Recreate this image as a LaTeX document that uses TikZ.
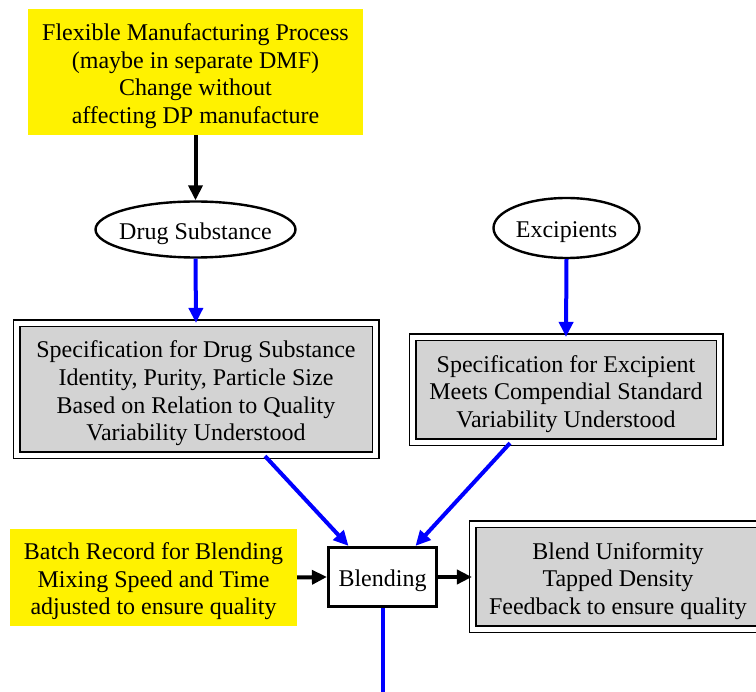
\documentclass[tikz,border=0pt]{standalone}
\usepackage{fontspec}
\setmainfont{Liberation Serif}
\usetikzlibrary{arrows.meta,calc,shapes.geometric}
\definecolor{specgray}{RGB}{211,211,211}
\definecolor{arrowblue}{RGB}{0,0,255}
\tikzset{
  txt/.style={font=\fontsize{24}{27.6}\selectfont, align=center, inner sep=0pt, text=black, yshift=-4pt},
  base/.style={inner sep=0pt},
  yellowbox/.style={base, rectangle, fill=yellow},
  ovalnode/.style={base, ellipse, draw, line width=2.4pt, fill=white},
  specbox/.style={base, rectangle, draw, line width=1.2pt, double=white, double distance=5.6pt, fill=specgray},
  processbox/.style={base, rectangle, draw, line width=3.2pt, fill=white},
  blackarrow/.style={line width=4pt, -{Triangle[length=15pt,width=14pt]}},
  bluearrow/.style={line width=4pt, arrowblue, -{Triangle[length=15pt,width=14pt]}}
}
\begin{document}
\begin{tikzpicture}[x=1pt,y=-1pt]
\useasboundingbox (0,0) rectangle (756,692);
\begin{scope}
\clip (0,0) rectangle (756,692);
\node[yellowbox, minimum width=335pt, minimum height=126pt,
  label={[txt]center:{Flexible Manufacturing Process\\(maybe in separate DMF)\\Change without\\affecting DP manufacture}}] (top) at (195.5,72) {};
\node[ovalnode, minimum width=200pt, minimum height=56pt,
  label={[txt]center:Drug Substance}] (ds) at (195.5,229.5) {};
\node[ovalnode, minimum width=146pt, minimum height=60pt,
  label={[txt]center:Excipients}] (exc) at (566.5,228) {};
\node[specbox, minimum width=359pt, minimum height=132pt,
  label={[txt]center:{Specification for Drug Substance\\Identity, Purity, Particle Size\\Based on Relation to Quality\\Variability Understood}}] (specds) at (196,389.5) {};
\node[specbox, minimum width=307pt, minimum height=105pt,
  label={[txt]center:{Specification for Excipient\\Meets Compendial Standard\\Variability Understood}}] (specex) at (566,390) {};
\node[processbox, minimum width=108pt, minimum height=59pt,
  label={[txt]center:Blending}] (blend) at (382.5,577) {};
\node[yellowbox, minimum width=287pt, minimum height=97pt,
  label={[txt]center:{Batch Record for Blending\\Mixing Speed and Time\\adjusted to ensure quality}}] (batch) at (153.5,577.5) {};
\node[specbox, minimum width=291pt, minimum height=105pt,
  label={[txt]center:{Blend Uniformity\\Tapped Density\\Feedback to ensure quality}}] (bu) at (618,577) {};
\coordinate (next) at (382.5,708);

\draw[blackarrow] (top.south) -- (ds.north);
\draw[bluearrow] (ds.south) -- (specds.north);
\draw[bluearrow] (exc.south) -- (specex.north);
\draw[bluearrow] ($(specds.south)+(69,0)$) -- ($(blend.north)+(-34,0)$);
\draw[bluearrow] ($(specex.south)+(-56,0)$) -- ($(blend.north)+(33,0)$);
\draw[blackarrow] (batch.east) -- (blend.west);
\draw[blackarrow] (blend.east) -- (bu.west);
\draw[bluearrow] (blend.south) -- (next);
\end{scope}
\end{tikzpicture}
\end{document}
